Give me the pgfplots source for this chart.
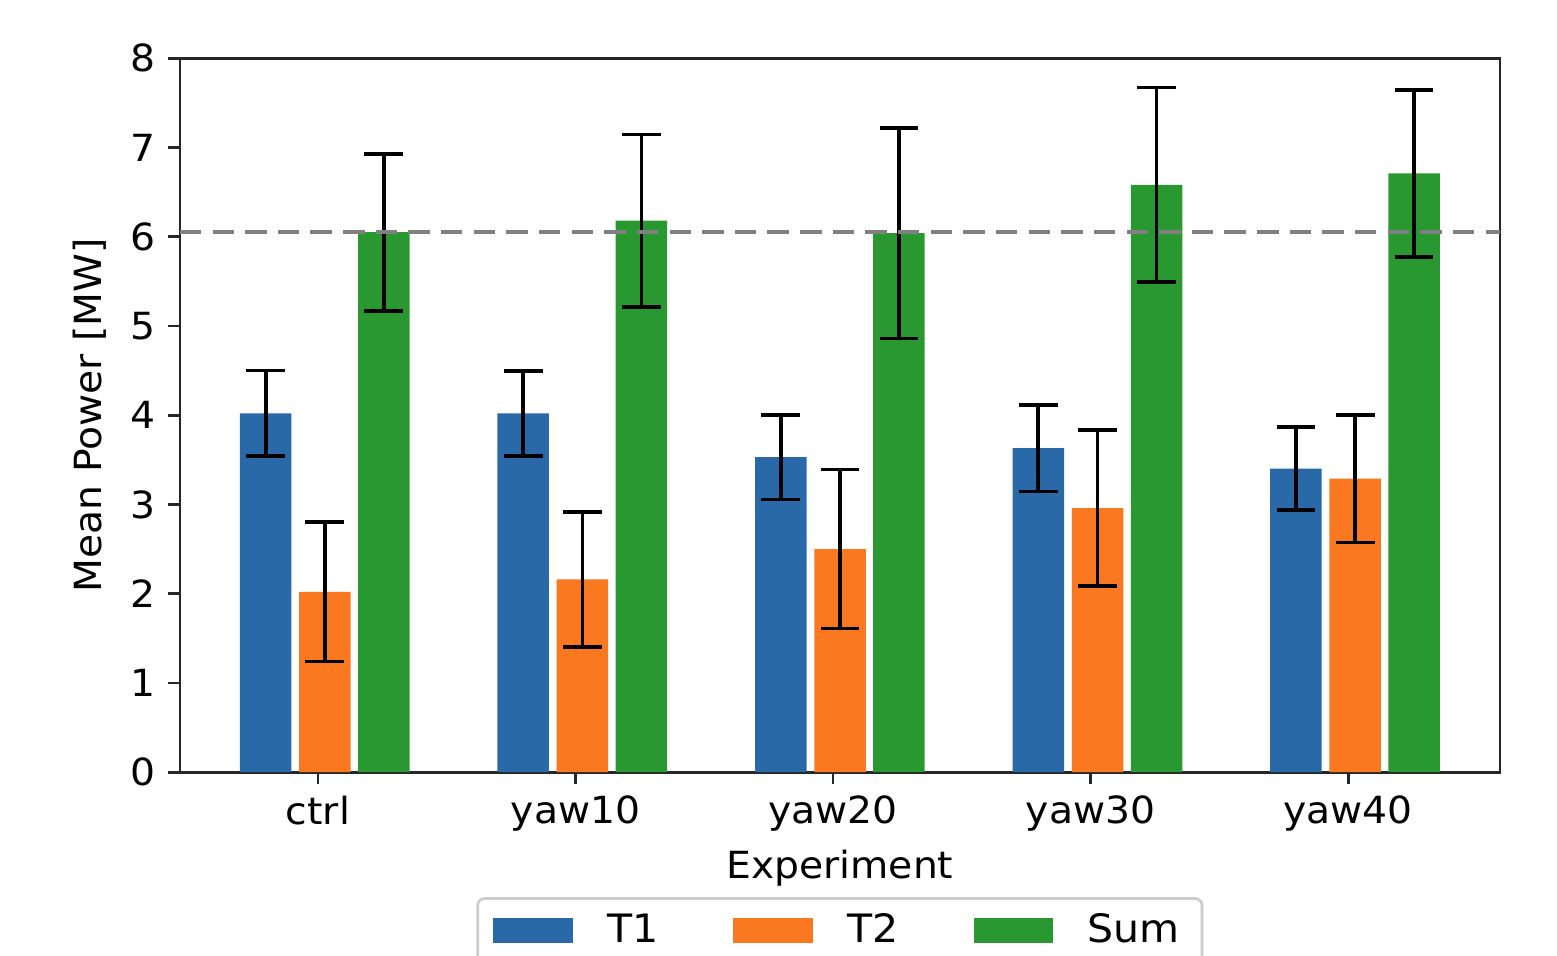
\documentclass[border=0pt]{standalone}
\usepackage{fontspec}
\setmainfont[FakeStretch=1.05]{DejaVu Sans}
\usepackage{pgfplots}
\pgfplotsset{compat=1.18}

\definecolor{cT1}{RGB}{42,105,168}
\definecolor{cT2}{RGB}{250,120,32}
\definecolor{cSum}{RGB}{42,152,48}

\begin{document}
\begin{tikzpicture}
\begin{axis}[
  name=ax,
  scale only axis, width=388.2pt, height=210pt,
  xmin=-0.536, xmax=4.589, ymin=0, ymax=8,
  xtick={0,1,2,3,4}, xticklabels={ctrl,yaw10,yaw20,yaw30,yaw40},
  ytick={0,1,2,3,4,5,6,7,8},
  tick align=outside, tick pos=left, major tick length=3.5pt,
  axis line style={line width=0.8pt, black!85},
  every tick/.style={line width=0.8pt, black!85},
  /pgf/number format/assume math mode=true,
  tick label style={font=\fontsize{11}{13}\selectfont},
  label style={font=\fontsize{11}{13}\selectfont},
  xlabel={Experiment}, ylabel={Mean Power [MW]},
  xlabel style={at={(axis description cs:0.5,-0.135)}, anchor=center},
  ylabel style={at={(axis description cs:-0.068,0.5)}, anchor=center},
  legend columns=3,
  legend style={at={(axis description cs:0.5,-0.175)}, anchor=north,
    draw=black!20, line width=0.8pt, rounded corners=2pt,
    font=\fontsize{11.5}{13}\selectfont, inner xsep=4.5pt, inner ysep=2.5pt,
    /tikz/every even column/.append style={column sep=20pt}},
  legend image code/.code={\fill[#1, sharp corners] (0pt,-3.7pt) rectangle (23.5pt,3.7pt); \path (31.6pt,0pt);},
  error bars/error bar style={line width=1.1pt, black},
  error bars/error mark options={black, line width=1.1pt, mark size=5.7pt, rotate=90},
]
\addplot[ybar, bar width=0.2, bar shift=0pt, fill=cT1, draw=none,
  error bars/.cd, y dir=both, y explicit]
  coordinates {(-0.203,4.02) +- (0,0.48) (0.797,4.02) +- (0,0.475) (1.797,3.53) +- (0,0.475)
               (2.797,3.63) +- (0,0.485) (3.797,3.40) +- (0,0.465)};
\addlegendentry{T1}
\addplot[ybar, bar width=0.2, bar shift=0pt, fill=cT2, draw=none,
  error bars/.cd, y dir=both, y explicit]
  coordinates {(0.027,2.02) +- (0,0.78) (1.027,2.16) +- (0,0.755) (2.027,2.50) +- (0,0.89)
               (3.027,2.96) +- (0,0.87) (4.027,3.29) +- (0,0.715)};
\addlegendentry{T2}
\addplot[ybar, bar width=0.2, bar shift=0pt, fill=cSum, draw=none,
  error bars/.cd, y dir=both, y explicit]
  coordinates {(0.256,6.05) +- (0,0.88) (1.256,6.18) +- (0,0.965) (2.256,6.04) +- (0,1.18)
               (3.256,6.58) +- (0,1.09) (4.256,6.71) +- (0,0.935)};
\addlegendentry{Sum}
\addplot[gray, line width=1.1pt, dash pattern=on 6.3pt off 3.3pt, forget plot]
  coordinates {(-0.536,6.05) (4.589,6.05)};
\end{axis}
\pgfresetboundingbox
\useasboundingbox ([xshift=-52.9pt,yshift=-53.8pt]ax.south west) rectangle ++(457.9pt,280.9pt);
\end{tikzpicture}
\end{document}
